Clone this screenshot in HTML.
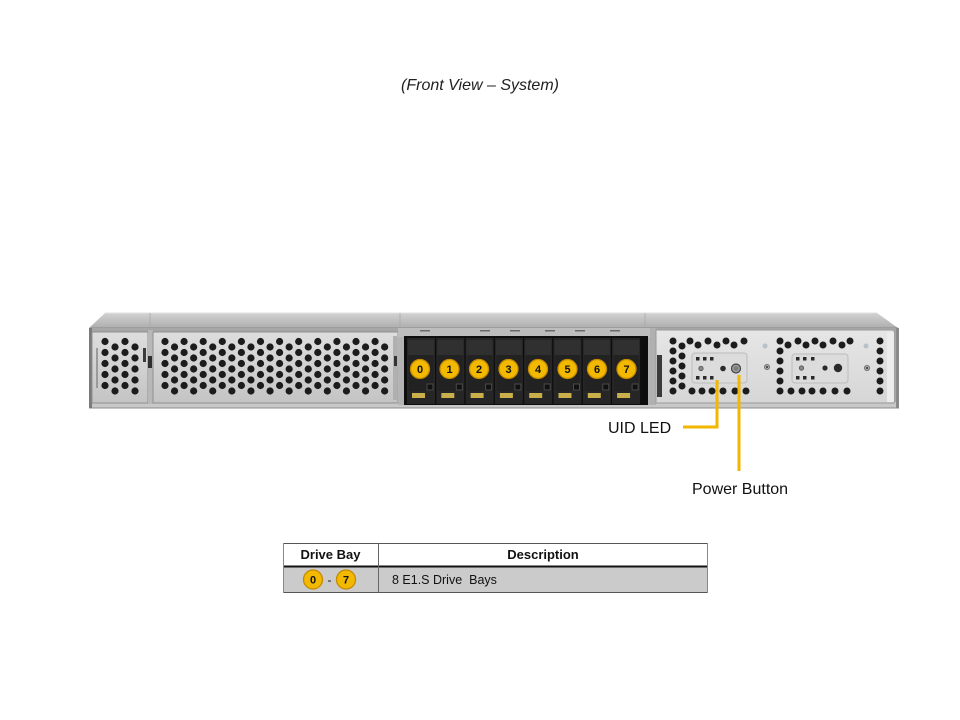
<!DOCTYPE html>
<html><head><meta charset="utf-8"><style>
html,body{margin:0;padding:0;background:#fff;}
svg{display:block;}
text{font-family:"Liberation Sans",Arial,sans-serif;}
</style></head><body>
<svg width="960" height="720" viewBox="0 0 960 720" xmlns="http://www.w3.org/2000/svg">
<defs>
<linearGradient id="gTop" x1="0" y1="0" x2="0" y2="1"><stop offset="0" stop-color="#d2d2d2"/><stop offset="1" stop-color="#aeaeae"/></linearGradient>
<linearGradient id="gPanel" x1="0" y1="0" x2="0" y2="1"><stop offset="0" stop-color="#dedede"/><stop offset="1" stop-color="#c4c4c4"/></linearGradient>
<linearGradient id="gRight" x1="0" y1="0" x2="0" y2="1"><stop offset="0" stop-color="#e6e6e6"/><stop offset="1" stop-color="#d6d6d6"/></linearGradient>
<g id="ce" fill="#1c1c1c"><circle cx="0" cy="341.5" r="3.6"/><circle cx="0" cy="352.5" r="3.6"/><circle cx="0" cy="363.5" r="3.6"/><circle cx="0" cy="374.5" r="3.6"/><circle cx="0" cy="385.5" r="3.6"/></g>
<g id="co" fill="#1c1c1c"><circle cx="0" cy="347" r="3.6"/><circle cx="0" cy="358" r="3.6"/><circle cx="0" cy="369" r="3.6"/><circle cx="0" cy="380" r="3.6"/><circle cx="0" cy="391" r="3.6"/></g>
<g id="drive">
<rect x="0" y="338" width="28" height="66" fill="#262626"/>
<rect x="1" y="340" width="26" height="15" fill="#303030"/>
<rect x="2" y="355" width="24" height="36" fill="#222"/>
<rect x="20" y="384" width="6" height="6" fill="#111" stroke="#4a4a4a" stroke-width="1"/>
<rect x="5" y="393" width="13" height="5" fill="#c9b04a"/>
</g>
</defs>

<!-- title -->
<text x="480" y="90" font-size="16" font-style="italic" text-anchor="middle" fill="#222">(Front View – System)</text>

<!-- chassis top -->
<polygon points="105,313 877,313 898,328 89,328" fill="url(#gTop)"/>
<line x1="105" y1="313" x2="877" y2="313" stroke="#e2e2e2" stroke-width="1"/>
<line x1="90" y1="328" x2="898" y2="328" stroke="#8a8a8a" stroke-width="1"/>
<line x1="150" y1="313" x2="150" y2="328" stroke="#a0a0a0" stroke-width="0.6"/>
<line x1="400" y1="313" x2="400" y2="328" stroke="#a0a0a0" stroke-width="0.6"/>
<line x1="645" y1="313" x2="645" y2="328" stroke="#a0a0a0" stroke-width="0.6"/>

<!-- front face frame -->
<rect x="89" y="328" width="810" height="80" fill="#a6a6a6"/>
<rect x="89" y="402" width="810" height="6" fill="#c8c8c8"/>
<line x1="89" y1="408" x2="899" y2="408" stroke="#8c8c8c" stroke-width="1"/>
<rect x="89" y="328" width="3" height="80" fill="#7a7a7a"/>
<rect x="896" y="328" width="3" height="80" fill="#8a8a8a"/>

<!-- left small panel -->
<rect x="92" y="332" width="56" height="71" fill="url(#gPanel)" stroke="#8f8f8f" stroke-width="1"/>
<use href="#ce" x="105"/><use href="#co" x="115"/><use href="#ce" x="125"/><use href="#co" x="135"/>
<rect x="96" y="348" width="2" height="40" fill="#9a9a9a"/>
<rect x="143" y="348" width="3" height="14" fill="#3a3a3a"/>

<!-- divider -->
<rect x="148" y="330" width="5" height="74" fill="#b8b8b8"/>
<rect x="148" y="356" width="4" height="12" fill="#2f2f2f"/>

<!-- big mesh panel -->
<rect x="153" y="332" width="245" height="71" fill="url(#gPanel)" stroke="#8f8f8f" stroke-width="1"/>
<use href="#ce" x="165"/><use href="#co" x="174.55"/><use href="#ce" x="184.1"/><use href="#co" x="193.65"/>
<use href="#ce" x="203.2"/><use href="#co" x="212.75"/><use href="#ce" x="222.3"/><use href="#co" x="231.85"/>
<use href="#ce" x="241.4"/><use href="#co" x="250.95"/><use href="#ce" x="260.5"/><use href="#co" x="270.05"/>
<use href="#ce" x="279.6"/><use href="#co" x="289.15"/><use href="#ce" x="298.7"/><use href="#co" x="308.25"/>
<use href="#ce" x="317.8"/><use href="#co" x="327.35"/><use href="#ce" x="336.9"/><use href="#co" x="346.45"/>
<use href="#ce" x="356"/><use href="#co" x="365.55"/><use href="#ce" x="375.1"/><use href="#co" x="384.65"/>
<rect x="393" y="336" width="4" height="64" fill="#b0b0b0"/>
<rect x="394" y="356" width="3" height="10" fill="#333"/>

<!-- drive bay frame -->
<rect x="398" y="328" width="252" height="77" fill="#b4b4b4"/>
<rect x="398" y="328" width="252" height="9" fill="#bdbdbd"/>
<g fill="#6a6a6a">
<rect x="420" y="330" width="10" height="1.5"/><rect x="480" y="330" width="10" height="1.5"/><rect x="510" y="330" width="10" height="1.5"/><rect x="545" y="330" width="10" height="1.5"/><rect x="575" y="330" width="10" height="1.5"/><rect x="610" y="330" width="10" height="1.5"/>
</g>
<rect x="404" y="336" width="244" height="69" fill="#0e0e0e"/>
<use href="#drive" x="407"/><use href="#drive" x="436.3"/><use href="#drive" x="465.6"/><use href="#drive" x="494.9"/>
<use href="#drive" x="524.2"/><use href="#drive" x="553.5"/><use href="#drive" x="582.8"/><use href="#drive" x="612.1"/>
<g fill="#f2b900" stroke="#c48a00" stroke-width="1.3">
<circle cx="420" cy="369" r="9.5"/><circle cx="449.5" cy="369" r="9.5"/><circle cx="479" cy="369" r="9.5"/><circle cx="508.5" cy="369" r="9.5"/>
<circle cx="538" cy="369" r="9.5"/><circle cx="567.5" cy="369" r="9.5"/><circle cx="597" cy="369" r="9.5"/><circle cx="626.5" cy="369" r="9.5"/>
</g>
<g font-size="11" font-weight="bold" fill="#111" text-anchor="middle">
<text x="420" y="373">0</text><text x="449.5" y="373">1</text><text x="479" y="373">2</text><text x="508.5" y="373">3</text>
<text x="538" y="373">4</text><text x="567.5" y="373">5</text><text x="597" y="373">6</text><text x="626.5" y="373">7</text>
</g>

<!-- right section -->
<rect x="650" y="328" width="6" height="77" fill="#b0b0b0"/>
<rect x="656" y="330" width="238" height="73" fill="url(#gRight)" stroke="#9a9a9a" stroke-width="1"/>
<rect x="657" y="355" width="5" height="42" fill="#3a3a3a"/>
<rect x="887" y="332" width="7" height="70" fill="#ececec"/>
<g fill="#1c1c1c">
<!-- left group -->
<circle cx="673" cy="341" r="3.5"/><circle cx="673" cy="351" r="3.5"/><circle cx="673" cy="361" r="3.5"/><circle cx="673" cy="371" r="3.5"/><circle cx="673" cy="381" r="3.5"/><circle cx="673" cy="391" r="3.5"/>
<circle cx="682" cy="346" r="3.5"/><circle cx="682" cy="356" r="3.5"/><circle cx="682" cy="366" r="3.5"/><circle cx="682" cy="376" r="3.5"/><circle cx="682" cy="386" r="3.5"/>
<circle cx="690" cy="341" r="3.5"/><circle cx="698" cy="345" r="3.5"/><circle cx="708" cy="341" r="3.5"/><circle cx="717" cy="345" r="3.5"/><circle cx="726" cy="341" r="3.5"/><circle cx="734" cy="345" r="3.5"/><circle cx="744" cy="341" r="3.5"/>
<circle cx="692" cy="391" r="3.5"/><circle cx="702" cy="391" r="3.5"/><circle cx="712" cy="391" r="3.5"/><circle cx="723" cy="391" r="3.5"/><circle cx="735" cy="391" r="3.5"/><circle cx="746" cy="391" r="3.5"/>
<!-- right group -->
<circle cx="780" cy="341" r="3.5"/><circle cx="780" cy="351" r="3.5"/><circle cx="780" cy="361" r="3.5"/><circle cx="780" cy="371" r="3.5"/><circle cx="780" cy="381" r="3.5"/><circle cx="780" cy="391" r="3.5"/>
<circle cx="788" cy="345" r="3.5"/><circle cx="798" cy="341" r="3.5"/><circle cx="806" cy="345" r="3.5"/><circle cx="815" cy="341" r="3.5"/><circle cx="823" cy="345" r="3.5"/><circle cx="833" cy="341" r="3.5"/><circle cx="842" cy="345" r="3.5"/><circle cx="850" cy="341" r="3.5"/>
<circle cx="791" cy="391" r="3.5"/><circle cx="802" cy="391" r="3.5"/><circle cx="812" cy="391" r="3.5"/><circle cx="823" cy="391" r="3.5"/><circle cx="835" cy="391" r="3.5"/><circle cx="847" cy="391" r="3.5"/>
<!-- far right column -->
<circle cx="880" cy="341" r="3.5"/><circle cx="880" cy="351" r="3.5"/><circle cx="880" cy="361" r="3.5"/><circle cx="880" cy="371" r="3.5"/><circle cx="880" cy="381" r="3.5"/><circle cx="880" cy="391" r="3.5"/>
</g>
<!-- recess boxes -->
<rect x="692" y="353" width="55" height="30" rx="3" fill="#dcdcdc" stroke="#bcbcbc" stroke-width="1"/>
<rect x="792" y="354" width="56" height="29" rx="3" fill="#dcdcdc" stroke="#bcbcbc" stroke-width="1"/>
<g fill="#2a2a2a">
<rect x="696" y="357" width="3.5" height="3.5"/><rect x="703" y="357" width="3.5" height="3.5"/><rect x="710" y="357" width="3.5" height="3.5"/>
<rect x="696" y="376" width="3.5" height="3.5"/><rect x="703" y="376" width="3.5" height="3.5"/><rect x="710" y="376" width="3.5" height="3.5"/>
<rect x="796" y="357" width="3.5" height="3.5"/><rect x="803" y="357" width="3.5" height="3.5"/><rect x="811" y="357" width="3.5" height="3.5"/>
<rect x="796" y="376" width="3.5" height="3.5"/><rect x="803" y="376" width="3.5" height="3.5"/><rect x="811" y="376" width="3.5" height="3.5"/>
<circle cx="723" cy="368.5" r="2.8"/><circle cx="825" cy="368" r="2.6"/><circle cx="838" cy="368" r="4.2"/>
</g>
<circle cx="701" cy="368.5" r="2.2" fill="#888" stroke="#555" stroke-width="0.8"/>
<circle cx="801.5" cy="368" r="2.2" fill="#888" stroke="#555" stroke-width="0.8"/>
<circle cx="736" cy="368.5" r="4.5" fill="#9a9a9a" stroke="#444" stroke-width="1.2"/>
<circle cx="736" cy="368.5" r="2.2" fill="#7a7a7a"/>
<circle cx="767" cy="367" r="2.6" fill="#aaa" stroke="#666" stroke-width="0.8"/><circle cx="767" cy="367" r="1" fill="#333"/>
<circle cx="867" cy="368" r="2.6" fill="#aaa" stroke="#666" stroke-width="0.8"/><circle cx="867" cy="368" r="1" fill="#333"/>
<circle cx="765" cy="346" r="2.5" fill="#b8c0c8"/><circle cx="866" cy="346" r="2.5" fill="#b8c0c8"/>

<!-- callouts -->
<polyline points="717,380 717,427 683,427" fill="none" stroke="#f2b700" stroke-width="3"/>
<line x1="739" y1="375" x2="739" y2="471" stroke="#f2b700" stroke-width="3"/>
<text x="608" y="433" font-size="16" fill="#111">UID LED</text>
<text x="692" y="494" font-size="16" fill="#111">Power Button</text>

<!-- table -->
<rect x="378.5" y="567" width="329.5" height="25" fill="#cbcbcb"/>
<rect x="283.5" y="567" width="95" height="25" fill="#cbcbcb"/>
<line x1="283" y1="543.5" x2="708" y2="543.5" stroke="#555" stroke-width="1"/>
<line x1="283" y1="566.5" x2="708" y2="566.5" stroke="#111" stroke-width="2"/>
<line x1="283" y1="592.5" x2="708" y2="592.5" stroke="#555" stroke-width="1"/>
<line x1="283.5" y1="543" x2="283.5" y2="593" stroke="#888" stroke-width="1"/>
<line x1="378.5" y1="543" x2="378.5" y2="593" stroke="#666" stroke-width="1"/>
<line x1="707.5" y1="543" x2="707.5" y2="593" stroke="#888" stroke-width="1"/>
<text x="330.5" y="559" font-size="13" font-weight="bold" text-anchor="middle" fill="#111">Drive Bay</text>
<text x="543" y="559" font-size="13" font-weight="bold" text-anchor="middle" fill="#111">Description</text>
<text x="392" y="584" font-size="12.5" fill="#111" xml:space="preserve">8 E1.S Drive  Bays</text>
<g fill="#f2b900" stroke="#c48a00" stroke-width="1.3">
<circle cx="313" cy="579.5" r="9.5"/><circle cx="346" cy="579.5" r="9.5"/>
</g>
<text x="313" y="583.5" font-size="11" font-weight="bold" text-anchor="middle" fill="#111">0</text>
<text x="346" y="583.5" font-size="11" font-weight="bold" text-anchor="middle" fill="#111">7</text>
<text x="329.5" y="584" font-size="12" text-anchor="middle" fill="#111">-</text>
</svg>
</body></html>
